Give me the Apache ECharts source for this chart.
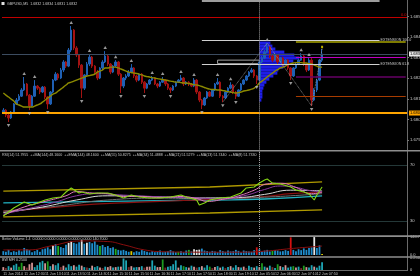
<!DOCTYPE html>
<html><head><meta charset="utf-8">
<script src="https://cdn.jsdelivr.net/npm/echarts/dist/echarts.min.js"></script>
<style>html,body{margin:0;padding:0;background:#000;}#c{width:420px;height:276px;}</style>
</head><body><div id="c"></div>
<script>
// ---------- DATA ----------
const timeLabels = ["11 Jun 2014","11 Jun 12:30","11 Jun 13:10","11 Jun 13:50","11 Jun 14:30","11 Jun 15:10","11 Jun 15:50","11 Jun 16:30","11 Jun 17:10","11 Jun 17:50","11 Jun 18:30","11 Jun 19:10","12 Jun 05:50","12 Jun 06:30","12 Jun 07:10","12 Jun 07:50"];

const opens = [1.68036,1.68045,1.68021,1.68007,1.68036,1.68075,1.68094,1.68113,1.68143,1.68172,
1.68118,1.68065,1.68113,1.68162,1.68152,1.68133,1.68157,1.68109,1.68075,1.68133,
1.68191,1.68220,1.68201,1.68240,1.68279,1.68259,1.68337,1.68434,1.68347,1.68313,
1.68264,1.68152,1.68216,1.68269,1.68303,1.68259,1.68230,1.68201,1.68250,1.68279,
1.68308,1.68269,1.68230,1.68259,1.68279,1.68220,1.68162,1.68201,1.68211,1.68230,
1.68250,1.68211,1.68191,1.68220,1.68181,1.68152,1.68172,1.68191,1.68201,1.68172,
1.68162,1.68181,1.68191,1.68172,1.68152,1.68143,1.68162,1.68181,1.68191,1.68201,
1.68172,1.68181,1.68172,1.68162,1.68191,1.68133,1.68094,1.68070,1.68104,1.68133,
1.68113,1.68143,1.68172,1.68181,1.68113,1.68104,1.68133,1.68152,1.68167,1.68133,
1.68113,1.68143,1.68172,1.68191,1.68211,1.68230,1.68240,1.68211,1.68191,1.68279,
1.68298,1.68327,1.68352,1.68308,1.68288,1.68313,1.68279,1.68298,1.68269,1.68288,
1.68250,1.68211,1.68250,1.68269,1.68288,1.68308,1.68269,1.68240,1.68288,1.68094,
1.68143,1.68191,1.68288];
const closes = [1.68045,1.68021,1.68007,1.68036,1.68075,1.68094,1.68113,1.68143,1.68172,1.68118,
1.68065,1.68113,1.68162,1.68152,1.68133,1.68157,1.68109,1.68075,1.68133,1.68191,
1.68220,1.68201,1.68240,1.68279,1.68259,1.68337,1.68434,1.68347,1.68313,1.68264,
1.68152,1.68216,1.68269,1.68303,1.68259,1.68230,1.68201,1.68250,1.68279,1.68308,
1.68269,1.68230,1.68259,1.68279,1.68220,1.68162,1.68201,1.68211,1.68230,1.68250,
1.68211,1.68191,1.68220,1.68181,1.68152,1.68172,1.68191,1.68201,1.68172,1.68162,
1.68181,1.68191,1.68172,1.68152,1.68143,1.68162,1.68181,1.68191,1.68201,1.68172,
1.68181,1.68172,1.68162,1.68191,1.68133,1.68094,1.68070,1.68104,1.68133,1.68113,
1.68143,1.68172,1.68181,1.68113,1.68104,1.68133,1.68152,1.68167,1.68133,1.68113,
1.68143,1.68172,1.68191,1.68211,1.68230,1.68240,1.68211,1.68191,1.68279,1.68298,
1.68327,1.68352,1.68308,1.68288,1.68313,1.68279,1.68298,1.68269,1.68288,1.68250,
1.68211,1.68250,1.68269,1.68288,1.68308,1.68269,1.68240,1.68288,1.68094,1.68143,
1.68191,1.68288,1.68318];
const highs = [1.68055,1.68050,1.68026,1.68041,1.68079,1.68104,1.68123,1.68152,1.68206,1.68177,
1.68123,1.68118,1.68191,1.68167,1.68157,1.68162,1.68162,1.68113,1.68138,1.68196,
1.68230,1.68225,1.68250,1.68288,1.68284,1.68347,1.68454,1.68439,1.68356,1.68318,
1.68269,1.68220,1.68279,1.68318,1.68308,1.68264,1.68240,1.68254,1.68288,1.68332,
1.68313,1.68274,1.68264,1.68288,1.68284,1.68225,1.68206,1.68220,1.68240,1.68269,
1.68254,1.68216,1.68225,1.68225,1.68186,1.68177,1.68196,1.68211,1.68206,1.68177,
1.68186,1.68206,1.68196,1.68177,1.68157,1.68167,1.68186,1.68196,1.68216,1.68206,
1.68186,1.68186,1.68177,1.68201,1.68196,1.68138,1.68099,1.68109,1.68138,1.68138,
1.68147,1.68177,1.68201,1.68186,1.68118,1.68138,1.68157,1.68181,1.68172,1.68138,
1.68147,1.68177,1.68196,1.68216,1.68235,1.68250,1.68245,1.68216,1.68288,1.68308,
1.68337,1.68371,1.68356,1.68313,1.68322,1.68318,1.68303,1.68303,1.68293,1.68293,
1.68254,1.68254,1.68274,1.68293,1.68322,1.68313,1.68274,1.68298,1.68298,1.68152,
1.68196,1.68293,1.68342];
const lows = [1.68026,1.68011,1.67987,1.68002,1.68031,1.68070,1.68089,1.68109,1.68138,1.68113,
1.68045,1.68060,1.68109,1.68143,1.68123,1.68128,1.68099,1.68050,1.68070,1.68128,
1.68186,1.68191,1.68196,1.68230,1.68250,1.68254,1.68327,1.68337,1.68303,1.68250,
1.68104,1.68143,1.68206,1.68259,1.68250,1.68220,1.68191,1.68196,1.68240,1.68274,
1.68259,1.68220,1.68225,1.68254,1.68211,1.68128,1.68152,1.68191,1.68206,1.68225,
1.68201,1.68181,1.68186,1.68172,1.68128,1.68147,1.68167,1.68186,1.68167,1.68152,
1.68157,1.68177,1.68162,1.68143,1.68128,1.68138,1.68157,1.68177,1.68186,1.68162,
1.68167,1.68162,1.68157,1.68157,1.68123,1.68084,1.68050,1.68065,1.68099,1.68109,
1.68109,1.68138,1.68167,1.68104,1.68084,1.68099,1.68128,1.68147,1.68123,1.68099,
1.68109,1.68138,1.68167,1.68186,1.68206,1.68225,1.68201,1.68172,1.68186,1.68274,
1.68293,1.68322,1.68298,1.68279,1.68284,1.68269,1.68274,1.68259,1.68264,1.68240,
1.68191,1.68206,1.68245,1.68264,1.68284,1.68259,1.68230,1.68235,1.68065,1.68089,
1.68133,1.68186,1.68279];
const maValues = [1.68128,1.68118,1.68109,1.68099,1.68089,1.68075,1.68070,1.68065,1.68060,1.68060,
1.68060,1.68060,1.68065,1.68070,1.68075,1.68084,1.68094,1.68104,1.68113,1.68123,
1.68128,1.68138,1.68147,1.68157,1.68167,1.68177,1.68181,1.68186,1.68191,1.68196,
1.68201,1.68206,1.68211,1.68213,1.68216,1.68220,1.68230,1.68235,1.68240,1.68250,
1.68250,1.68254,1.68254,1.68254,1.68250,1.68245,1.68240,1.68235,1.68230,1.68228,
1.68225,1.68223,1.68220,1.68216,1.68211,1.68208,1.68206,1.68203,1.68201,1.68198,
1.68196,1.68194,1.68191,1.68189,1.68186,1.68184,1.68181,1.68181,1.68179,1.68177,
1.68177,1.68174,1.68172,1.68169,1.68167,1.68164,1.68160,1.68155,1.68150,1.68147,
1.68145,1.68145,1.68143,1.68143,1.68140,1.68138,1.68135,1.68133,1.68130,1.68128,
1.68130,1.68133,1.68138,1.68140,1.68143,1.68147,1.68152,1.68162,1.68177,1.68186,
1.68196,1.68206,1.68216,1.68225,1.68235,1.68242,1.68250,1.68254,1.68259,1.68267,
1.68271,1.68274,1.68276,1.68276,1.68276,1.68274,1.68274,1.68271,1.68269,1.68264,
1.68259,1.68254,1.68254];
const fractalUp = [8,12,26,33,39,43,49,57,61,68,73,82,87,101,114,117];
const fractalDown = [2,10,17,30,45,54,64,76,84,89,97,110,118];
const zigzagBars = [84,101,118,122];
const zigzagPrices = [1.68084,1.68371,1.68065,1.68342];

const levelRed = 1.68497, levelBid = 1.68318, levelExt100 = 1.68386, levelExt618 = 1.68269;
const levelOlive = 1.68376, levelMagenta = 1.68303, levelPurple = 1.68206, levelBrown = 1.68113, levelOrange = 1.68031;
const levelTop = 1.68575;
const boxTop = 1.68288, boxBottom = 1.68271;

const profilePrices = [1.68371,1.68356,1.68342,1.68327,1.68313,1.68298,1.68284,1.68269,1.68254,1.68240,1.68225,1.68211,1.68196,1.68181,1.68167,1.68152,1.68138,1.68123,1.68109,1.68094];
const profileCounts = [110,130,160,250,350,400,340,280,240,190,180,140,100,70,50,40,30,30,30,20];

const rsiPts = [[0,33.6],[4,39.3],[8,43.6],[11,41.4],[16,45],[19,46.4],[22,47.1],[24,50.7],[26,53.6],[29,50],[30,50.7],[33,49.3],[36,50],[40,50],[43,48.6],[46,46.4],[49,48.6],[52,47.1],[56,46.4],[60,46.4],[64,47.1],[68,48.6],[70,47.1],[74,45],[75,41.4],[77,42.9],[79,45],[83,46.4],[87,47.1],[91,50],[93,53.6],[96,54.3],[98,57.1],[100,59.3],[101,60],[103,57.1],[106,56.4],[110,54.3],[112,52.1],[115,50.7],[117,49.3],[119,45],[120,48.6],[122,54.3]];
const rsiMaFast = [[0,34],[8,40],[16,44],[24,48],[28,51],[34,50],[40,49.5],[46,47.5],[52,47.5],[60,46.8],[68,47.5],[74,46],[78,44],[84,45.5],[90,48],[96,52],[101,56.5],[106,57],[112,54],[118,49.5],[122,50.5]];
const rsiMaMid = [[0,35],[10,39],[20,43.5],[28,48],[36,49.5],[46,48.5],[60,47.3],[74,46.5],[82,45.8],[92,48],[100,52.5],[106,55],[112,54],[118,51.5],[122,51]];
const rsiMaSlow = [[0,36],[15,40],[28,45],[40,48],[55,47.5],[75,46.5],[90,46.8],[100,49],[110,52],[122,51.5]];
const rsiMaLong = [[0,37],[20,40.5],[40,45],[60,46.3],[80,46],[100,47],[122,49.5]];
const rsiCyan = [[0,42.9],[40,44],[80,45],[100,45.7],[122,47.9]];
const rsiDarkRed = [[0,37.1],[15,39],[35,42],[60,44],[80,45.5],[100,47.5],[110,49.5],[122,50.7]];
const rsiBandUpper = [[0,51.4],[79,54.3],[122,57.9]];
const rsiBandLower = [[0,32.9],[79,35.7],[122,37.9]];

const volumes = [30,25,40,22,30,25,38,28,55,45,
38,22,30,40,25,45,50,60,45,78,
85,70,62,55,80,95,110,95,88,100,
118,88,95,102,92,108,80,70,78,62,
70,55,60,48,40,35,40,32,25,30,
22,30,25,38,32,25,20,30,22,28,
35,22,25,30,38,28,22,25,30,22,
35,40,28,45,40,42,50,35,30,25,
32,28,22,38,30,25,35,28,30,40,
32,22,35,30,28,25,38,60,45,30,
35,40,28,32,40,35,28,30,38,32,
138,40,30,45,38,52,40,55,60,140,
55,75,8];
const volumeTypes = ("nnnnnnnnnn"+"nnnnnnnnnw"+"ngnnnwwnnn"+"wnwnnnngnn"+"nnngnnnnny"+"nnnnnnnnnn"+"nnnnnnngnn"+"ngnwwwnnnn"+"nnnnnnnnnn"+"nnnnnnnrnn"+"nnngnnnnnn"+"rnnnnnnnnw"+"nny").split('');
const volumeMa = [[0,40],[10,40],[18,70],[30,110],[40,105],[46,80],[54,40],[62,25],[75,22],[90,22],[100,30],[110,50],[122,70]];

const mfi = [0.06,0.04,0.08,0.05,0.1,0.13,0.07,0.15,0.08,0.05,
0.12,0.15,0.06,0.1,0.16,0.19,0.14,0.18,0.08,0.12,
0.1,0.14,0.06,0.09,0.05,0.12,0.08,0.1,0.07,0.11,
0.09,0.06,0.05,0.04,0.09,0.06,0.08,0.05,0.04,0.07,
0.06,0.08,0.05,0.06,0.07,0.07,0.24,0.2,0.06,0.08,
0.05,0.06,0.06,0.08,0.05,0.07,0.07,0.2,0.09,0.06,
0.06,0.22,0.05,0.07,0.08,0.12,0.2,0.05,0.1,0.08,
0.06,0.05,0.09,0.07,0.05,0.06,0.08,0.05,0.1,0.07,
0.04,0.06,0.08,0.05,0.07,0.04,0.06,0.08,0.05,0.1,
0.06,0.05,0.07,0.04,0.09,0.06,0.05,0.08,0.06,0.14,
0.07,0.05,0.09,0.06,0.04,0.12,0.08,0.06,0.1,0.05,
0.07,0.08,0.05,0.07,0.04,0.09,0.06,0.05,0.1,0.07,
0.05,0.09,0.16];
const mfiTypes = ("pbtpttggpb"+"ppttttpgtp"+"ttbptttptt"+"ptbtpttpbt"+"pptptpttbp"+"ttptbppttp"+"pgbttttptg"+"tptpbtpttg"+"bptptbtptt"+"ptpbttptpg"+"tptbtgptpt"+"tgptbgpttp"+"ttt").split('');

const priceTicksMin = 1.678, priceTicksMax = 1.686, priceTickStep = 0.001;

const priceTitle = "GBPUSD,M5  1.6832 1.6834 1.6831 1.6832";
const rsiTitle = "RSI(14) 51.7955  ++MA(144) 48.1600  ++EMA(144) 48.1600  ++MA(55) 50.8275  ++MA(34) 51.4888  ++MA(21) 51.5279  ++MA(13) 51.7440  ++MA(8) 51.7330";
const volTitle = "Better Volume 1.4  0.0000 0.0000 0.0000 0.0000 0.0000 140.7000";
const mfiTitle = "BW MFI 0.2500";

// ---------- CHART ----------
const SLOTS = 155;
const cats = [];
for (let i = 0; i < SLOTS; i++) cats.push(i % 8 === 0 && timeLabels[i / 8] ? timeLabels[i / 8] : '');
const FONT = 'Liberation Sans';
const TXT = '#c8c8c8';
const volColors = {n:'#1f8ccc', w:'#e6e6e6', g:'#22b022', r:'#d41010', y:'#d8c800'};
const mfiColors = {t:'#1ea6b6', p:'#d49494', g:'#1e9a1e', b:'#7a2a2a'};
const vLine = {xAxis: 98, lineStyle:{color:'#a0a0a0', type:'dotted', width:1}, label:{show:false}};
const PROFILE_STEP = 0.00015;
// price panel: 1.686 sits at y=-4.08, 1.678 at y=160.58 (panel visible 0..150)
const PRICE_TOP = -4.08, PRICE_H = 164.66;

const grids = [
  {left:2, right:13, top:PRICE_TOP, height:PRICE_H},
  {left:2, right:13, top:151, height:84},
  {left:2, right:13, top:237, height:18},
  {left:2, right:13, top:258, height:12},
  {left:259.4, right:13, top:PRICE_TOP, height:PRICE_H}
].map(g => Object.assign({containLabel:false, outerBoundsMode:'none'}, g));

const catAxis = (gi, showLabel) => ({
  type:'category', gridIndex:gi, data:cats, boundaryGap:true,
  axisLine:{show:showLabel, lineStyle:{color:'#6a6a6a'}}, axisTick:{show:false}, splitLine:{show:false},
  axisLabel: showLabel ? {show:true, interval:7, hideOverlap:false, fontSize:3.6, fontFamily:FONT, color:TXT, align:'left', margin:1.5} : {show:false}
});

const lbl = (extra) => Object.assign({show:true, fontSize:4, fontFamily:FONT, color:TXT}, extra);

const option = {
  backgroundColor:'#000',
  animation:false,
  grid: grids,
  xAxis: [catAxis(0,false), catAxis(1,false), catAxis(2,false), catAxis(3,true),
    {type:'value', gridIndex:4, min:0, max:1480, show:false}],
  yAxis: [
    {type:'value', gridIndex:0, position:'right', min:priceTicksMin, max:priceTicksMax, interval:priceTickStep,
     axisLine:{show:false}, splitLine:{show:false}, axisTick:{show:true, length:2, lineStyle:{color:'#777'}},
     axisLabel:{fontSize:4.2, fontFamily:FONT, color:TXT, margin:3, showMinLabel:false, showMaxLabel:false, formatter:v => v.toFixed(4)}},
    {type:'value', gridIndex:1, position:'right', min:20, max:80, interval:10,
     axisLine:{show:false}, splitLine:{show:false}, axisTick:{show:false},
     axisLabel:{fontSize:4.2, fontFamily:FONT, color:TXT, margin:3, formatter:v => (v===70||v===30) ? String(v) : ''}},
    {type:'value', gridIndex:2, position:'right', min:0, max:140.7, interval:140.7,
     axisLine:{show:false}, splitLine:{show:false}, axisTick:{show:false},
     axisLabel:{fontSize:4, fontFamily:FONT, color:TXT, margin:3, formatter:v => v.toFixed(1)}},
    {type:'value', gridIndex:3, position:'right', min:0, max:0.25, interval:0.25,
     axisLine:{show:false}, splitLine:{show:false}, axisTick:{show:false},
     axisLabel:{fontSize:4, fontFamily:FONT, color:TXT, margin:3, formatter:v => v === 0 ? '0' : v.toFixed(4)}},
    {type:'value', gridIndex:4, min:priceTicksMin, max:priceTicksMax, interval:priceTickStep, show:false}
  ],
  graphic: [
    {type:'rect', shape:{x:0, y:150, width:420, height:1.6}, style:{fill:'#8e8e8e'}, z:10},
    {type:'rect', shape:{x:0, y:235.3, width:420, height:1.6}, style:{fill:'#8e8e8e'}, z:10},
    {type:'rect', shape:{x:0, y:256.2, width:420, height:1.6}, style:{fill:'#8e8e8e'}, z:10},
    {type:'line', shape:{x1:407.5, y1:0, x2:407.5, y2:271}, style:{stroke:'#6a6a6a', lineWidth:1}},
    {type:'rect', shape:{x:1.5, y:2, width:3, height:3}, style:{fill:'#e0e0e0'}},
    {type:'text', x:7, y:1.8, style:{text:priceTitle, fill:TXT, fontSize:3.6, fontFamily:FONT}},
    {type:'text', x:2, y:152.6, style:{text:rsiTitle, fill:TXT, fontSize:3.6, fontFamily:FONT}},
    {type:'text', x:2, y:237.4, style:{text:volTitle, fill:TXT, fontSize:3.6, fontFamily:FONT}},
    {type:'text', x:2, y:258.2, style:{text:mfiTitle, fill:TXT, fontSize:3.6, fontFamily:FONT}}
  ],
  series: [
    {type:'custom', xAxisIndex:4, yAxisIndex:4, z:1, silent:true,
     data: profilePrices.map((p,k) => [profileCounts[k], p]),
     renderItem: (params, api) => {
       const a = api.coord([0, api.value(1) + PROFILE_STEP/2]);
       const b = api.coord([api.value(0), api.value(1) - PROFILE_STEP/2]);
       return {type:'rect', shape:{x:a[0], y:a[1], width:b[0]-a[0], height:b[1]-a[1]}, style:{fill:'#1e1ee6'}};
     }},
    {type:'candlestick', xAxisIndex:0, yAxisIndex:0, z:3, barWidth:2,
     data: opens.map((o,i) => [o, closes[i], lows[i], highs[i]]),
     itemStyle:{color:'#1f60b4', color0:'#a41212', borderColor:'#1f60b4', borderColor0:'#a41212', borderWidth:1},
     markArea:{silent:true, itemStyle:{color:'rgba(0,0,0,0)', borderColor:'#a0a0a0', borderWidth:1},
       data:[[{coord:[82, boxTop]}, {coord:[98, boxBottom]}]]},
     markLine:{symbol:'none', silent:true, precision:5, label:{show:false}, data:[
       {yAxis:levelRed, lineStyle:{color:'#c00000', width:1, type:'solid'}, label:lbl({position:'insideEndTop', formatter:'0.0', color:'#e00000', distance:0.5})},
       {yAxis:levelBid, lineStyle:{color:'#3c4c60', width:1, type:'solid'}, label:lbl({position:'end', formatter:levelBid.toFixed(4), color:'#000', backgroundColor:'#e8e8e8', padding:[0.5,1], distance:2})},
       {yAxis:levelOrange, lineStyle:{color:'#ffa500', width:2, type:'solid'}, label:lbl({position:'end', formatter:levelOrange.toFixed(4), color:'#000', backgroundColor:'#ffa500', padding:[0.5,1], distance:2})},
       [{coord:[76, levelTop], lineStyle:{color:'#9c9c9c', width:2, type:'solid'}}, {coord:[144, levelTop]}],
       [{coord:[76, levelExt100], lineStyle:{color:'#d0d0d0', width:1, type:'solid'}, label:lbl({position:'end', formatter:'EXTENSION 100.0', fontSize:3.6, distance:1})}, {coord:[144, levelExt100]}],
       [{coord:[76, levelExt618], lineStyle:{color:'#d0d0d0', width:1, type:'solid'}, label:lbl({position:'end', formatter:'EXTENSION 61.8', fontSize:3.6, distance:1})}, {coord:[144, levelExt618]}],
       [{coord:[112, levelOlive], lineStyle:{color:'#a8a400', width:1.5, type:'solid'}}, {coord:[154, levelOlive]}],
       [{coord:[112, levelMagenta], lineStyle:{color:'#c000c0', width:1, type:'solid'}}, {coord:[154, levelMagenta]}],
       [{coord:[112, levelPurple], lineStyle:{color:'#660066', width:1.5, type:'solid'}}, {coord:[154, levelPurple]}],
       [{coord:[112, levelBrown], lineStyle:{color:'#a83c00', width:1.2, type:'solid'}}, {coord:[154, levelBrown]}],
       vLine
     ]}},
    {type:'line', xAxisIndex:0, yAxisIndex:0, z:4, data:maValues, showSymbol:false, smooth:true,
     lineStyle:{color:'#8c8a00', width:1.4}},
    {type:'line', xAxisIndex:0, yAxisIndex:0, z:4, data:zigzagBars.map((b,k) => [b, zigzagPrices[k]]), showSymbol:false,
     lineStyle:{color:'#a8a8a8', width:0.8, type:'dotted'}},
    {type:'scatter', xAxisIndex:0, yAxisIndex:0, z:5, symbol:'triangle', symbolSize:[3.5,3], symbolOffset:[0,-3.5],
     itemStyle:{color:'#bdbdbd'}, data: fractalUp.map(i => [i, highs[i]])},
    {type:'scatter', xAxisIndex:0, yAxisIndex:0, z:5, symbol:'triangle', symbolRotate:180, symbolSize:[3.5,3], symbolOffset:[0,3.5],
     itemStyle:{color:'#bdbdbd'}, data: fractalDown.map(i => [i, lows[i]])},
    {type:'scatter', xAxisIndex:0, yAxisIndex:0, z:6, symbol:'rect', symbolSize:[2,2.5], symbolOffset:[0,-2],
     itemStyle:{color:'#e8d800'}, data:[[122, highs[122]]]},
    // RSI panel
    {type:'line', xAxisIndex:1, yAxisIndex:1, data:rsiBandUpper, showSymbol:false, lineStyle:{color:'#b09a00', width:1.3}},
    {type:'line', xAxisIndex:1, yAxisIndex:1, data:rsiBandLower, showSymbol:false, lineStyle:{color:'#b09a00', width:1.3}},
    {type:'line', xAxisIndex:1, yAxisIndex:1, data:rsiCyan, showSymbol:false, smooth:true, lineStyle:{color:'#22b4c4', width:1.3}},
    {type:'line', xAxisIndex:1, yAxisIndex:1, data:rsiDarkRed, showSymbol:false, smooth:true, lineStyle:{color:'#8a1010', width:1.2}},
    {type:'line', xAxisIndex:1, yAxisIndex:1, data:rsiMaLong, showSymbol:false, smooth:true, lineStyle:{color:'#707070', width:1}},
    {type:'line', xAxisIndex:1, yAxisIndex:1, data:rsiMaSlow, showSymbol:false, smooth:true, lineStyle:{color:'#d8d8d8', width:1}},
    {type:'line', xAxisIndex:1, yAxisIndex:1, data:rsiMaMid, showSymbol:false, smooth:true, lineStyle:{color:'#8a3aa0', width:1}},
    {type:'line', xAxisIndex:1, yAxisIndex:1, data:rsiMaFast, showSymbol:false, smooth:true, lineStyle:{color:'#e078b8', width:1}},
    {type:'line', xAxisIndex:1, yAxisIndex:1, data:rsiPts, showSymbol:false, z:6, lineStyle:{color:'#84d414', width:1.1},
     markLine:{symbol:'none', silent:true, label:{show:false}, data:[
       {yAxis:70, lineStyle:{color:'#243838', width:1, type:'solid'}},
       {yAxis:30, lineStyle:{color:'#243838', width:1, type:'solid'}},
       vLine]}},
    // Volume panel
    {type:'bar', xAxisIndex:2, yAxisIndex:2, barWidth:1.8,
     data: volumes.map((v,i) => ({value:v, itemStyle:{color:volColors[volumeTypes[i]]}})),
     markLine:{symbol:'none', silent:true, label:{show:false}, data:[vLine]}},
    {type:'line', xAxisIndex:2, yAxisIndex:2, data:volumeMa, showSymbol:false, smooth:true, z:4, lineStyle:{color:'#8a0e0e', width:1}},
    // MFI panel
    {type:'bar', xAxisIndex:3, yAxisIndex:3, barWidth:1.8,
     data: mfi.map((v,i) => ({value:v, itemStyle:{color:mfiColors[mfiTypes[i]]}})),
     markLine:{symbol:'none', silent:true, label:{show:false}, data:[vLine]}}
  ]
};
const chart = echarts.init(document.getElementById('c'));
chart.setOption(option);
</script>
</body></html>
